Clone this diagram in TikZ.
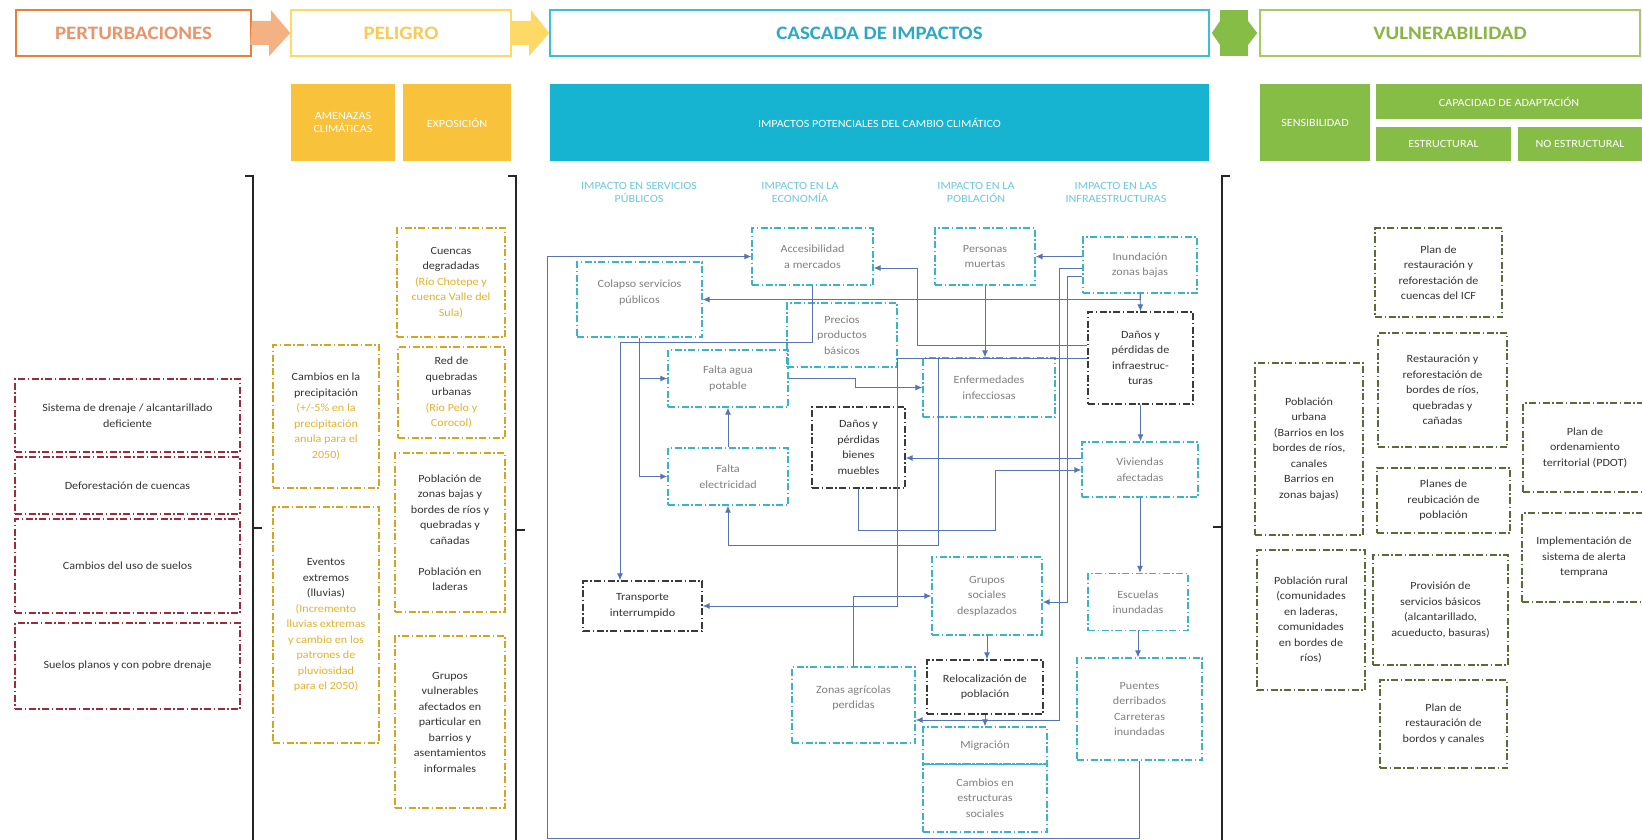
\documentclass[tikz,border=0pt]{standalone}
\usepackage{fontspec}
\setmainfont{Carlito}[FakeStretch=1.1]
\usetikzlibrary{arrows.meta}
\definecolor{perto}{HTML}{ED7D31}
\definecolor{pertt}{HTML}{E8956A}
\definecolor{pertarr}{HTML}{F4B183}
\definecolor{pely}{HTML}{FFD966}
\definecolor{pelt}{HTML}{F7CB55}
\definecolor{pelfill}{HTML}{F8C23A}
\definecolor{cascb}{HTML}{3BBFD8}
\definecolor{casct}{HTML}{2BA9C6}
\definecolor{cascfill}{HTML}{17B4D2}
\definecolor{cashead}{HTML}{6CC8DE}
\definecolor{vulb}{HTML}{A2CC62}
\definecolor{vult}{HTML}{8BB543}
\definecolor{vulfill}{HTML}{86BD47}
\definecolor{connc}{HTML}{5674B4}
\definecolor{cdash}{HTML}{3AB5C8}
\definecolor{ddash}{HTML}{3A3A3A}
\definecolor{rdash}{HTML}{9E2B3B}
\definecolor{ydash}{HTML}{D6A520}
\definecolor{gdash}{HTML}{5A6B3A}
\definecolor{txtg}{HTML}{808080}
\definecolor{txtd}{HTML}{333333}
\definecolor{txty}{HTML}{E2B12C}
\newcommand{\goldtxt}[1]{{\color{txty}#1}}
\begin{document}
\begin{tikzpicture}[x=1pt, y=-1pt,
  every node/.style={font=\fontsize{11}{15.5}\selectfont, align=center, inner sep=2pt},
  dd/.style={dash pattern=on 7pt off 2.5pt on 1.5pt off 2.5pt, line width=1.3pt},
  cbox/.style={draw=cdash, dd, text=txtg},
  kbox/.style={draw=ddash, dd, text=txtd},
  rbox/.style={draw=rdash, dd, text=txtd},
  ybox/.style={draw=ydash, dd, text=txtd},
  gbox/.style={draw=gdash, dd, text=txtd},
  title/.style={line width=1.6pt, font=\fontsize{19}{22}\selectfont\bfseries},
  band/.style={text=white, font=\fontsize{11}{13.5}\selectfont},
  colhead/.style={text=cashead, font=\fontsize{11}{13}\selectfont},
  conn/.style={draw=connc, line width=0.9pt, -{Latex[length=7pt,width=6pt]}},
  brk/.style={line width=1.8pt, black!85}]
\fill[white] (0,0) rectangle (1642,840);
\useasboundingbox (0,0) rectangle (1642,840);

% Header row
\node[draw=perto, title, text=pertt, minimum width=235, minimum height=46] (pert) at (133.5,33) {PERTURBACIONES};
\node[draw=pely, title, text=pelt, minimum width=220, minimum height=46] (pel) at (401,33) {PELIGRO};
\node[draw=cascb, title, text=casct, minimum width=659, minimum height=46] (casc) at (879.5,33) {CASCADA DE IMPACTOS};
\node[draw=vulb, title, text=vult, minimum width=380, minimum height=46] (vul) at (1450,33) {VULNERABILIDAD};

\fill[pertarr] (pert.east) ++(0,-12) -- ++(19,0) -- ++(0,-11) -- (pel.west) -- ++(-21,23) -- ++(0,-11) -- ++(-19,0) -- cycle;
\fill[pely] (pel.east) ++(0,-12) -- ++(19,0) -- ++(0,-11) -- (casc.west) -- ++(-20,23) -- ++(0,-11) -- ++(-19,0) -- cycle;
\fill[vulfill] (1220,10) rectangle (1248,56);
\fill[vulfill] (1220,21) -- ([xshift=2pt]casc.east) -- (1220,45) -- cycle;
\fill[vulfill] (1248,21) -- ([xshift=-2pt]vul.west) -- (1248,45) -- cycle;

% Second row
\node[fill=pelfill, band, minimum width=104, minimum height=77] (amen) at (343,122.5) {AMENAZAS\\CLIMÁTICAS};
\node[fill=pelfill, band, minimum width=108, minimum height=77] (expo) at (457,122.5) {EXPOSICIÓN};
\node[fill=cascfill, band, minimum width=659, minimum height=77] (ipot) at (879.5,122.5) {IMPACTOS POTENCIALES DEL CAMBIO CLIMÁTICO};
\node[fill=vulfill, band, minimum width=110, minimum height=77] (sens) at (1315,122.5) {SENSIBILIDAD};
\node[fill=vulfill, band, minimum width=266, minimum height=35] (capa) at (1509,101.5) {CAPACIDAD DE ADAPTACIÓN};
\node[fill=vulfill, band, minimum width=135, minimum height=34] (estr) at (1443.5,144) {ESTRUCTURAL};
\node[fill=vulfill, band, minimum width=124, minimum height=34] (noes) at (1580,144) {NO ESTRUCTURAL};

% Brackets
\draw[brk] (245,176) -- (253,176) -- (253,842);
\draw[brk] (253,528) -- (262,528);
\draw[brk] (508,176) -- (516,176) -- (516,842);
\draw[brk] (516,530) -- (525,530);
\draw[brk] (1230,176) -- (1222,176) -- (1222,842);
\draw[brk] (1222,527) -- (1213,527);

% Perturbaciones
\node[rbox, minimum width=225, minimum height=73] (drena) at (127.5,415.5) {Sistema de drenaje / alcantarillado\\deficiente};
\node[rbox, minimum width=225, minimum height=57] (defo) at (127.5,485.5) {Deforestación de cuencas};
\node[rbox, minimum width=225, minimum height=94] (usos) at (127.5,566) {Cambios del uso de suelos};
\node[rbox, minimum width=225, minimum height=86] (plano) at (127.5,666) {Suelos planos y con pobre drenaje};

% Peligro
\node[ybox, minimum width=106, minimum height=143] (prec5) at (326,416.5) {Cambios en la\\precipitación\\\goldtxt{(+/-5\% en la}\\\goldtxt{precipitación}\\\goldtxt{anula para el}\\\goldtxt{2050)}};
\node[ybox, minimum width=106, minimum height=236] (event) at (326,625) {Eventos\\extremos\\(lluvias)\\\goldtxt{(Incremento}\\\goldtxt{lluvias extremas}\\\goldtxt{y cambio en los}\\\goldtxt{patrones de}\\\goldtxt{pluviosidad}\\\goldtxt{para el 2050)}};
\node[ybox, minimum width=108, minimum height=109] (cuen) at (451,282.5) {Cuencas\\degradadas\\\goldtxt{(Río Chotepe y}\\\goldtxt{cuenca Valle del}\\\goldtxt{Sula)}};
\node[ybox, minimum width=107, minimum height=91] (redq) at (451.5,392.5) {Red de\\quebradas\\urbanas\\\goldtxt{(Río Pelo y}\\\goldtxt{Corocol)}};
\node[ybox, minimum width=110, minimum height=159] (pobz) at (450,532.5) {Población de\\zonas bajas y\\bordes  de ríos y\\quebradas y\\cañadas\\[15.5pt]Población en\\laderas};
\node[ybox, minimum width=110, minimum height=172] (gvul) at (450,722) {Grupos\\vulnerables\\afectados en\\particular en\\barrios y\\asentamientos\\informales};

% Cascada de impactos
\node[colhead] (hserv) at (639,192) {IMPACTO EN SERVICIOS\\PÚBLICOS};
\node[colhead] (heco) at (800,192) {IMPACTO EN LA\\ECONOMÍA};
\node[colhead] (hpob) at (976,192) {IMPACTO EN LA\\POBLACIÓN};
\node[colhead] (hinf) at (1116,192) {IMPACTO EN LAS\\INFRAESTRUCTURAS};

\node[cbox, minimum width=121, minimum height=57] (acc) at (812.5,256.5) {Accesibilidad\\a mercados};
\node[cbox, minimum width=125, minimum height=75] (col) at (639.5,299.5) {Colapso servicios\\públicos\\\mbox{}};
\node[cbox, minimum width=110, minimum height=64] (prec) at (842,335) {Precios\\productos\\básicos};
\node[cbox, minimum width=120, minimum height=57] (agua) at (728,378.5) {Falta agua\\potable};
\node[cbox, minimum width=120, minimum height=57] (elec) at (728,476.5) {Falta\\electricidad};
\node[kbox, minimum width=93, minimum height=81] (mueb) at (858.5,447.5) {Daños y\\pérdidas\\bienes\\muebles};
\node[cbox, minimum width=100, minimum height=57] (muer) at (985,256.5) {Personas\\muertas};
\node[cbox, minimum width=114, minimum height=56] (inun) at (1140,265) {Inundación\\zonas bajas};
\node[cbox, minimum width=132, minimum height=59] (enf) at (989,387.5) {Enfermedades\\infecciosas};
\node[kbox, minimum width=105, minimum height=92] (dinf) at (1140.5,358) {Daños y\\pérdidas de\\infraestruc-\\turas};
\node[cbox, minimum width=116, minimum height=55] (viv) at (1140,469.5) {Viviendas\\afectadas};
\node[kbox, minimum width=119, minimum height=50] (trans) at (642.5,606) {Transporte\\interrumpido};
\node[cbox, minimum width=110, minimum height=78] (grup) at (987,596) {Grupos\\sociales\\desplazados};
\node[cbox, minimum width=100, minimum height=57] (esc) at (1138,602) {Escuelas\\inundadas};
\node[kbox, minimum width=116, minimum height=54] (reloc) at (985,687) {Relocalización de\\población};
\node[cbox, minimum width=123, minimum height=76] (zon) at (853.5,705) {Zonas agrícolas\\perdidas\\\mbox{}};
\node[cbox, minimum width=125, minimum height=102] (puen) at (1139.5,709) {Puentes\\derribados\\Carreteras\\inundadas};
\node[cbox, minimum width=124, minimum height=37] (migr) at (985,745.5) {Migración};
\node[cbox, minimum width=124, minimum height=68] (cest) at (985,798) {Cambios en\\estructuras\\sociales};
\draw[cdash, line width=1.3pt] (migr.south west) -- (migr.south east);

% Connectors
\draw[conn] (puen.south) |- (547,838) |- (acc.west);
\draw[conn] (inun.south) |- (col.east);
\draw[conn] (inun.south) -- (dinf.north);
\draw[conn] (acc.south) -- ++(0,57) -| ([xshift=-22.5pt]trans.north);
\draw[conn] (col.south) |- (agua.west);
\draw[conn] (col.south) |- (elec.west);
\draw[conn] (elec.north) -- (agua.south);
\draw[conn] (dinf.west |- 0,345) -| (917,268) -- (acc.east |- 0,268);
\draw[conn] (dinf.west) -| (897,606) -- (trans.east);
\coordinate (jb) at (938,358);
\draw[conn] (jb) |- ([yshift=-40pt]elec.south) -- (elec.south);
\draw[conn] (muer.south) -- (muer.south |- enf.north);
\draw[conn] (inun.west |- muer.east) -- (muer.east);
\draw[conn] (inun.west |- 0,268) -| (1059,720) -- (zon.east |- 0,720);
\draw[conn] (inun.west |- 0,276) -| (1067,602) -- (grup.east |- 0,602);
\draw[conn] (agua.east) -- ++(67,0) |- (enf.west);
\draw[conn] (dinf.south) -- (dinf.south |- viv.north);
\draw[conn] (viv.west |- 0,458) -- (mueb.east |- 0,458);
\draw[conn] (mueb.south) -- ++(0,42) -| (995,470) -- (viv.west |- 0,470);
\draw[conn] (zon.north) |- (grup.west);
\draw[conn] (grup.south) -- (grup.south |- reloc.north);
\draw[conn] (reloc.south) -- (migr.north);
\draw[conn] (viv.south) -- (viv.south |- esc.north);
\draw[conn] (esc.south) -- (esc.south |- puen.north);

% Vulnerabilidad
\node[gbox, minimum width=108, minimum height=172] (purb) at (1309,449) {Población\\urbana\\(Barrios en los\\bordes de  ríos,\\canales\\Barrios en\\zonas bajas)};
\node[gbox, minimum width=108, minimum height=140] (prur) at (1311,620) {Población rural\\(comunidades\\en laderas,\\comunidades\\en bordes de\\ríos)};
\node[gbox, minimum width=127, minimum height=89] (picf) at (1438.5,272.5) {Plan de\\restauración y\\reforestación de\\cuencas del ICF};
\node[gbox, minimum width=129, minimum height=114] (prest) at (1442.5,390) {Restauración y\\reforestación de\\bordes de ríos,\\quebradas y\\cañadas};
\node[gbox, minimum width=133, minimum height=65] (preub) at (1443.5,500.5) {Planes de\\reubicación de\\población};
\node[gbox, minimum width=135, minimum height=110] (pserv) at (1440.5,610) {Provisión de\\servicios básicos\\(alcantarillado,\\acueducto, basuras)};
\node[gbox, minimum width=127, minimum height=88] (pbord) at (1443.5,724) {Plan de\\restauración de\\bordos y canales};
\node[gbox, minimum width=124, minimum height=89] (pdot) at (1585,447.5) {Plan de\\ordenamiento\\territorial  (PDOT)};
\node[gbox, minimum width=124, minimum height=89] (palert) at (1584,557.5) {Implementación de\\sistema de alerta\\temprana};
\end{tikzpicture}
\end{document}
